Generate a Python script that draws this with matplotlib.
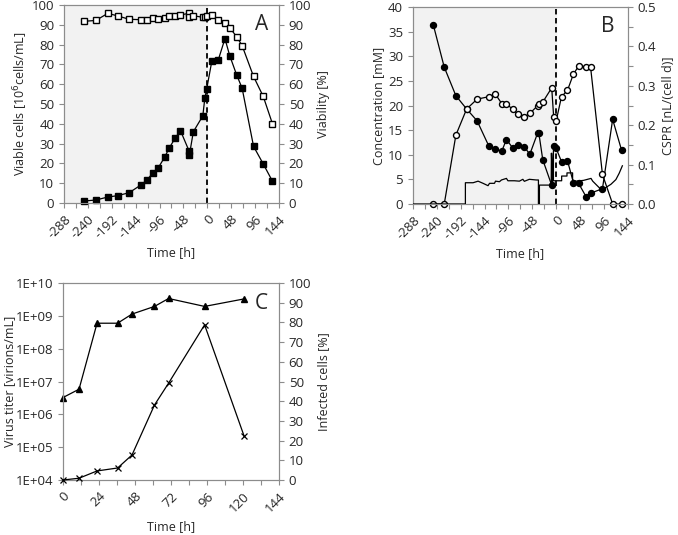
import math
import matplotlib.pyplot as plt
import matplotlib.ticker as mticker

plt.rcParams['font.family'] = ['Open Sans', 'DejaVu Sans']
plt.rcParams['axes.unicode_minus'] = False
plt.rcParams['axes.edgecolor'] = '#8c8c8c'
plt.rcParams['xtick.color'] = '#8c8c8c'
plt.rcParams['ytick.color'] = '#8c8c8c'
plt.rcParams['xtick.labelcolor'] = '#262626'
plt.rcParams['ytick.labelcolor'] = '#262626'
plt.rcParams['axes.labelcolor'] = '#262626'

# Panel A - viable cells and viability
tA = [-247, -224, -200, -180, -157, -134, -122, -110, -99, -86, -76, -64, -54, -37, -36, -28,
      -9, -5, -1, 9, 22, 35.5, 45, 59, 70, 93, 112.5, 131]
viable = [1.0, 1.5, 3.0, 3.7, 5.2, 9.0, 11.4, 15.0, 17.6, 23.0, 28.0, 33.0, 36.6, 26.5, 24.2, 36.0,
          44.0, 52.8, 57.8, 71.5, 72.2, 83.0, 74.5, 64.7, 58.0, 28.6, 19.7, 11.0]
viability = [91.8, 92.2, 95.8, 94.5, 92.8, 92.6, 92.6, 93.6, 93.0, 93.6, 94.3, 94.5, 95.0, 95.8, 94.2, 94.6,
             93.8, 94.2, 94.6, 94.8, 92.6, 91.0, 88.6, 84.0, 79.5, 63.9, 53.8, 40.0]

# Panel B - concentrations and CSPR
tB = [-247, -225, -201.6, -180, -159, -135.5, -122, -109.5, -100, -87.4, -76, -64, -53, -37, -35,
      -27, -9, -5, 0, 10.7, 22.7, 34.7, 45, 60, 69, 93, 113.5, 131.5]
conc_filled = [36.4, 27.8, 22.0, 19.3, 16.9, 11.8, 11.2, 10.7, 13.1, 11.4, 12.0, 11.6, 10.1, 14.5, 14.5,
               9.0, 3.8, 11.8, 11.3, 8.6, 8.8, 4.3, 4.2, 1.5, 2.2, 3.1, 17.2, 10.9]
conc_open = [0.0, 0.0, 14.0, 19.3, 21.3, 21.8, 22.3, 20.4, 20.4, 19.2, 18.2, 17.7, 18.4, 20.0, 20.3,
             20.7, 23.6, 17.6, 16.9, 21.8, 23.1, 26.4, 28.0, 27.9, 27.9, 6.0, 0.0, 0.0]
cspr_t = [-288, -182.5, -182.5, -167, -157, -147, -137, -134, -124, -122, -114, -110, -100, -97, -84, -74,
          -67, -64, -54, -40, -35.7, -35.7, -33.7, -33.7, -12, -10, -9.6, -7.6, -5.6, -5.6, 0, 11, 11,
          21.7, 21.7, 33, 33, 40, 55, 70, 73.4, 90, 100, 110, 120, 126.6, 133]
cspr = [0.0, 0.0, 0.054, 0.054, 0.058, 0.0525, 0.0465, 0.0525, 0.0525, 0.058, 0.0566, 0.061, 0.065, 0.059,
        0.059, 0.058, 0.0627, 0.0576, 0.0627, 0.061, 0.061, 0.0, 0.0, 0.048, 0.048, 0.052, 0.129, 0.052,
        0.129, 0.059, 0.059, 0.059, 0.071, 0.071, 0.079, 0.079, 0.061, 0.058, 0.06, 0.065, 0.058, 0.037,
        0.042, 0.05, 0.062, 0.078, 0.097]

# Panel C - virus titer and infected cells
tC = [0, 10.7, 22.7, 36.4, 46, 61, 70.4, 94.4, 120.7]
titer = [3.26e6, 5.85e6, 6.0e8, 6.0e8, 1.14e9, 1.95e9, 3.4e9, 1.95e9, 3.3e9]
infected = [0.0, 0.9, 4.6, 6.1, 12.7, 38.1, 49.2, 78.8, 22.4]

fig = plt.figure(figsize=(6.78, 5.35), dpi=100)
tick_fs = 9.5
lab_fs = 9
ms = 4.3


def style_time_axis(ax, lo, hi, major, minor):
    ax.set_xlim(lo, hi)
    ax.xaxis.set_major_locator(mticker.MultipleLocator(major))
    ax.xaxis.set_minor_locator(mticker.MultipleLocator(minor))
    ax.tick_params(axis='x', which='both', direction='out', length=3.5, width=0.8, labelsize=tick_fs)
    for lab in ax.get_xticklabels():
        lab.set_rotation(45)
        lab.set_ha('right')
        lab.set_rotation_mode('anchor')
    ax.set_xlabel('Time [h]', fontsize=lab_fs, labelpad=4)


# ---- A ----
axA = fig.add_axes([0.0944, 0.6206, 0.317, 0.370])
axA.axvspan(-288, 0, color='#f2f2f2', zorder=0)
axA.plot(tA, viable, '-s', color='black', ms=ms, mfc='black', mec='black', lw=0.9, zorder=3, clip_on=False)
axA.axvline(0, color='black', ls=(0, (3, 2)), lw=1.3, zorder=2)
axA.set_ylim(0, 100)
axA.yaxis.set_major_locator(mticker.MultipleLocator(10))
axA.tick_params(axis='y', direction='out', length=3.5, width=0.8, labelsize=tick_fs)
style_time_axis(axA, -288, 144, 48, 24)
axA.set_ylabel('Viable cells [10$^6$cells/mL]', fontsize=lab_fs, labelpad=1)
axA2 = axA.twinx()
axA2.plot(tA, viability, '-s', color='black', ms=ms, mfc='white', mec='black', lw=0.9, zorder=3, clip_on=False)
axA2.set_ylim(0, 100)
axA2.yaxis.set_major_locator(mticker.MultipleLocator(10))
axA2.tick_params(axis='y', direction='out', length=3.5, width=0.8, labelsize=tick_fs)
axA2.set_ylabel('Viability [%]', fontsize=lab_fs, labelpad=4)
axA.text(0.95, 0.955, 'A', transform=axA.transAxes, fontsize=15, ha='right', va='top', color='#262626')

# ---- B ----
axB = fig.add_axes([0.609, 0.6187, 0.317, 0.368])
axB.axvspan(-288, 0, color='#f2f2f2', zorder=0)
axB.plot(tB, conc_filled, '-o', color='black', ms=ms, mfc='black', mec='black', lw=0.9, zorder=3, clip_on=False)
axB.plot(tB, conc_open, '-o', color='black', ms=ms, mfc='white', mec='black', lw=0.9, zorder=4, clip_on=False)
axB.axvline(0, color='black', ls=(0, (3, 2)), lw=1.3, zorder=2)
axB.set_ylim(0, 40)
axB.yaxis.set_major_locator(mticker.MultipleLocator(5))
axB.tick_params(axis='y', direction='out', length=3.5, width=0.8, labelsize=tick_fs)
style_time_axis(axB, -288, 144, 48, 24)
axB.set_ylabel('Concentration [mM]', fontsize=lab_fs, labelpad=2)
axB2 = axB.twinx()
axB2.plot(cspr_t, cspr, '-', color='black', lw=0.9, zorder=3)
axB2.set_ylim(0, 0.5)
axB2.yaxis.set_major_locator(mticker.MultipleLocator(0.1))
axB2.yaxis.set_minor_locator(mticker.MultipleLocator(0.05))
axB2.yaxis.set_major_formatter(mticker.FormatStrFormatter('%.1f'))
axB2.tick_params(axis='y', which='both', direction='out', length=3.5, width=0.8, labelsize=tick_fs)
axB2.set_ylabel('CSPR [nL/(cell d)]', fontsize=lab_fs, labelpad=4)
axB.text(0.94, 0.955, 'B', transform=axB.transAxes, fontsize=15, ha='right', va='top', color='#262626')

# ---- C ----
axC = fig.add_axes([0.0929, 0.1028, 0.3186, 0.368])
axC.semilogy(tC, titer, '-^', color='black', ms=ms + 0.7, mfc='black', mec='black', lw=0.9, zorder=3, clip_on=False)
axC.set_ylim(1e4, 1e10)
axC.yaxis.set_major_locator(mticker.LogLocator(base=10, numticks=10))
axC.yaxis.set_minor_locator(mticker.NullLocator())
axC.yaxis.set_major_formatter(mticker.FuncFormatter(lambda v, p: '1E+%02d' % round(math.log10(v))))
axC.tick_params(axis='y', direction='out', length=3.5, width=0.8, labelsize=tick_fs)
style_time_axis(axC, 0, 144, 24, 12)
axC.set_ylabel('Virus titer [virions/mL]', fontsize=lab_fs, labelpad=0)
axC2 = axC.twinx()
axC2.plot(tC, infected, '-x', color='black', ms=ms + 0.5, mec='black', mew=0.9, lw=0.9, zorder=3, clip_on=False)
axC2.set_ylim(0, 100)
axC2.yaxis.set_major_locator(mticker.MultipleLocator(10))
axC2.tick_params(axis='y', direction='out', length=3.5, width=0.8, labelsize=tick_fs)
axC2.set_ylabel('Infected cells [%]', fontsize=lab_fs, labelpad=4)
axC.text(0.95, 0.95, 'C', transform=axC.transAxes, fontsize=15, ha='right', va='top', color='#262626')

for ax in [axA, axA2, axB, axB2, axC, axC2]:
    for s in ax.spines.values():
        s.set_linewidth(0.8)

fig.savefig('out.png', dpi=100)
